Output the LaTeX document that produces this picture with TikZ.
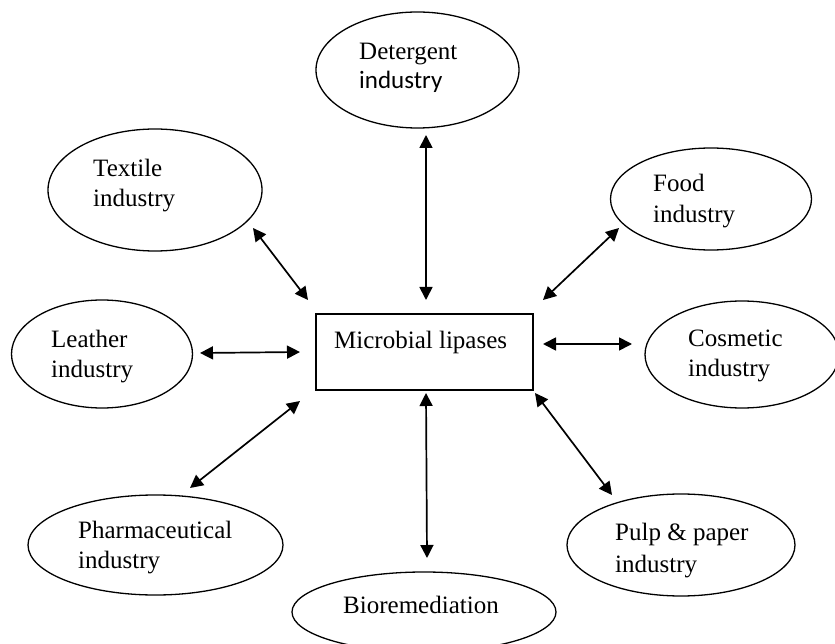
\documentclass[tikz,border=0pt]{standalone}
\usepackage{fontspec}
\setmainfont{Liberation Serif}
\newfontfamily\carl{Carlito}
\usetikzlibrary{shapes.geometric,arrows.meta}
\begin{document}
\begin{tikzpicture}[x=1pt,y=-1pt,
  oval/.style={draw, ellipse, line width=1.3pt, inner sep=0pt},
  hub/.style={draw, rectangle, line width=1.3pt, inner sep=0pt},
  lbl/.style={anchor=base west, inner sep=0pt, font=\fontsize{25}{30}\selectfont},
  link/.style={line width=1.7pt, {Triangle[length=13pt,width=13pt]}-{Triangle[length=13pt,width=13pt]}}]
\useasboundingbox (0,0) rectangle (835,644);
\begin{scope}
\clip (0,0) rectangle (835,644);
% central box
\node[hub, minimum width=217pt, minimum height=76pt] (box) at (424.5,352) {};
\node[lbl] (boxT) at (334,348) {Microbial lipases};
% ellipses
\node[oval, minimum width=203pt, minimum height=116pt] (det) at (417.5,70) {};
\node[oval, minimum width=214pt, minimum height=122pt] (tex) at (155,190) {};
\node[oval, minimum width=201pt, minimum height=102pt] (food) at (711,199) {};
\node[oval, minimum width=181pt, minimum height=108pt] (lea) at (102,354) {};
\node[oval, minimum width=194pt, minimum height=107pt] (cos) at (742,354.5) {};
\node[oval, minimum width=255pt, minimum height=100pt] (pha) at (155.5,545) {};
\node[oval, minimum width=228pt, minimum height=102pt] (pulp) at (681,545) {};
\node[oval, minimum width=264pt, minimum height=80pt] (bio) at (424,612) {};
% labels
\node[lbl] (detA) at (359,60) {Detergent};
\node[lbl] (detB) at (359,89) {\carl industry};
\node[lbl] (texA) at (93,177) {Textile};
\node[lbl] (texB) at (93,207) {industry};
\node[lbl] (foodA) at (653,192) {Food};
\node[lbl] (foodB) at (653,223) {industry};
\node[lbl] (leaA) at (51,347) {Leather};
\node[lbl] (leaB) at (51,377) {industry};
\node[lbl] (cosA) at (688,346) {Cosmetic};
\node[lbl] (cosB) at (688,376) {industry};
\node[lbl] (phaA) at (78,538) {Pharmaceutical};
\node[lbl] (phaB) at (78,568) {industry};
\node[lbl] (pulpA) at (615,540) {Pulp \& paper};
\node[lbl] (pulpB) at (615,572) {industry};
\node[lbl] (bioA) at (343,613) {Bioremediation};
% arrow end points
\coordinate (detE) at (426,135);   \coordinate (boxN) at (426,300);
\coordinate (texE) at (253,228);   \coordinate (boxNW) at (308,300);
\coordinate (foodE) at (619,228);  \coordinate (boxNE) at (543,300);
\coordinate (leaE) at (200,353);   \coordinate (boxW) at (300,352);
\coordinate (cosE) at (632,344);   \coordinate (boxE) at (543,344);
\coordinate (phaE) at (190,488);   \coordinate (boxSW) at (300,401);
\coordinate (pulpE) at (612,495);  \coordinate (boxSE) at (535,393);
\coordinate (bioE) at (427,558);   \coordinate (boxS) at (426,393);
% connectors
\draw[link] (detE) -- (boxN);
\draw[link] (texE) -- (boxNW);
\draw[link] (foodE) -- (boxNE);
\draw[link] (leaE) -- (boxW);
\draw[link] (boxE) -- (cosE);
\draw[link] (phaE) -- (boxSW);
\draw[link] (boxSE) -- (pulpE);
\draw[link] (boxS) -- (bioE);
\end{scope}
\end{tikzpicture}
\end{document}
